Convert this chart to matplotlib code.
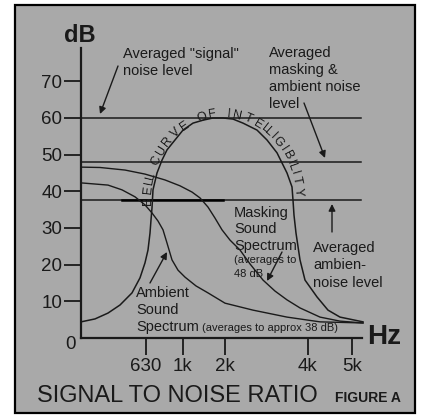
import matplotlib
matplotlib.use('Agg')
import matplotlib.pyplot as plt
import numpy as np
from matplotlib import font_manager
from matplotlib.patches import Rectangle

names = {f.name for f in font_manager.fontManager.ttflist}
narrow = 'Liberation Sans Narrow' if 'Liberation Sans Narrow' in names else 'Liberation Sans'
plt.rcParams['font.family'] = ['Liberation Sans', 'DejaVu Sans']

# x = position along the Hz axis (drawing units), y = dB
hz_pos = [65, 102, 144, 227, 271]
hz_lab = ['630', '1k', '2k', '4k', '5k']
db_ticks = [10, 20, 30, 40, 50, 60, 70]

signal_level = 60
masking_level = 48
ambient_level = 37.5

masking_x = [0, 19, 44, 64, 84, 99, 111, 119, 127, 134, 141, 149, 159, 169, 182, 194,
             206, 219, 239, 259, 282]
masking_y = [46.6, 46.5, 45.8, 44.7, 43.1, 41.5, 39.8, 38.2, 35.7, 32.7, 29.5, 26.7,
             24.0, 20.2, 15.8, 12.8, 10.4, 8.2, 5.7, 4.6, 4.1]

ambient_x = [0, 27, 41, 54, 64, 71, 77, 82, 86, 91, 97, 104, 115, 127, 144, 172, 206,
             239, 282]
ambient_y = [42.3, 41.7, 40.4, 38.5, 36.3, 34.1, 31.9, 29.5, 25.9, 21.3, 18.5, 16.6,
             14.2, 12.3, 9.5, 7.6, 5.7, 4.4, 4.1]

bell_x = [0, 14, 27, 39, 51, 59, 64, 67, 69, 70, 71, 72, 76, 81, 86, 94, 102, 112, 122,
          132, 142, 152, 162, 176, 186, 196, 206, 211, 212, 213, 215, 219, 224, 236, 247,
          259, 282]
bell_y = [4.4, 5.2, 6.8, 9.0, 12.3, 16.4, 20.5, 24.0, 28.6, 32.2, 35.5, 40.4, 45.0,
          48.5, 51.3, 54.0, 56.7, 58.6, 59.4, 60.0, 60.0, 59.7, 58.6, 56.7, 54.0, 50.5,
          45.0, 41.2, 37.6, 33.5, 28.6, 21.3, 15.8, 11.2, 7.6, 5.7, 4.4]

ink = '#1a1a1a'
fig = plt.figure(figsize=(4.24, 4.15), dpi=100)
fig.patch.set_facecolor('white')
fig.add_artist(Rectangle((15/424, 2/415), 400/424, 408/415, transform=fig.transFigure,
                         fc='#a9a9a9', ec='black', lw=1.6, zorder=-1))

ax = fig.add_axes([81/424, 1-338/415, 281/424, 290/415])
ax.set_facecolor('none')
ax.set_xlim(0, 281)
ax.set_ylim(0, 290/3.667)
for s in ['top', 'right']:
    ax.spines[s].set_visible(False)
for s in ['left', 'bottom']:
    ax.spines[s].set_linewidth(1.6)
    ax.spines[s].set_color(ink)

ax.set_yticks(db_ticks)
ax.set_xticks(hz_pos, hz_lab)
ax.tick_params(axis='y', direction='out', length=12.5, width=1.3, pad=1, labelsize=13.5,
               colors=ink)
ax.tick_params(axis='x', direction='out', length=12.5, width=1.3, pad=2, labelsize=13.5,
               colors=ink)

# level lines
for lv in [signal_level, masking_level, ambient_level]:
    ax.plot([0, 280], [lv, lv], color=ink, lw=1.1)
ax.plot([41, 142], [ambient_level, ambient_level], color='black', lw=1.8)

ax.plot(masking_x, masking_y, color=ink, lw=1.0, clip_on=False)
ax.plot(ambient_x, ambient_y, color=ink, lw=1.0, clip_on=False)
ax.plot(bell_x, bell_y, color=ink, lw=1.1, clip_on=False)


def P(x, y):
    # picture pixel -> axes data
    return (x - 81, (338 - y) / 3.667)


# curved label along the bell
arc_text = 'BELL CURVE OF INTELLIGIBILITY'
t = np.linspace(np.radians(184), np.radians(2), 400)
ex = 223 + 71*np.cos(t)
ey = 138 + 82*np.sin(t)
s = np.concatenate([[0], np.cumsum(np.hypot(np.diff(ex), np.diff(ey)))])
w = np.array([0.45 if c in 'IL' else 0.7 if c == ' ' else 1.0 for c in arc_text])
pos = (np.cumsum(w) - w/2) / w.sum() * s[-1]
for c, p in zip(arc_text, pos):
    ti = np.interp(p, s, t)
    nx, ny = np.cos(ti)/71, np.sin(ti)/82
    n = np.hypot(nx, ny)
    x = 223 + 71*np.cos(ti) + 4*nx/n
    y = 138 + 82*np.sin(ti) + 4*ny/n
    ang = np.degrees(np.arctan2(-82*np.cos(ti), 71*np.sin(ti)))
    ax.text(x - 81, y/3.667, c, rotation=ang, rotation_mode='anchor', ha='center',
            va='center', fontsize=9, color=ink)

# annotations
def lines(x, ys, txts, size=10.5):
    for y, tx in zip(ys, txts):
        ax.text(*P(x, y), tx, fontsize=size, color=ink, va='baseline', ha='left',
                clip_on=False)


def arrow(x0, y0, x1, y1):
    ax.annotate('', xy=P(x1, y1), xytext=P(x0, y0), annotation_clip=False,
                arrowprops=dict(arrowstyle='-|>', color=ink, lw=1.0,
                                mutation_scale=10, shrinkA=0, shrinkB=0))


lines(123, [58, 75], ['Averaged "signal"', 'noise level'])
arrow(118, 66, 100, 114)
lines(269, [57, 74, 91, 108], ['Averaged', 'masking &', 'ambient noise', 'level'])
arrow(304, 103, 325, 158)
lines(313, [252, 269, 287], ['Averaged', 'ambien-', 'noise level'])
arrow(332, 232, 332, 204)
lines(234, [217, 233, 250], ['Masking', 'Sound', 'Spectrum'])
lines(234, [263, 277], ['(averages to', '48 dB'], size=8)
arrow(282, 252, 267, 281)
lines(136, [297, 314, 331], ['Ambient', 'Sound', 'Spectrum'])
lines(202, [331], ['(averages to approx 38 dB)'], size=8)
arrow(150, 283, 167, 252)

ax.text(*P(70, 344), '0', fontsize=13.5, color=ink, ha='center', va='center', clip_on=False)
ax.text(*P(80, 35), 'dB', fontsize=17, fontweight='bold', color=ink, ha='center',
        va='center', clip_on=False)
ax.text(*P(384, 337), 'Hz', fontsize=20, fontweight='bold', family=narrow, color=ink,
        ha='center', va='center', clip_on=False)
ax.text(*P(37, 402), 'SIGNAL TO NOISE RATIO', fontsize=17, color=ink, ha='left',
        va='baseline', clip_on=False)
ax.text(*P(335, 402), 'FIGURE A', fontsize=10, fontweight='bold', family=narrow,
        color=ink, ha='left', va='baseline', clip_on=False)

fig.savefig('out.png', dpi=100)
